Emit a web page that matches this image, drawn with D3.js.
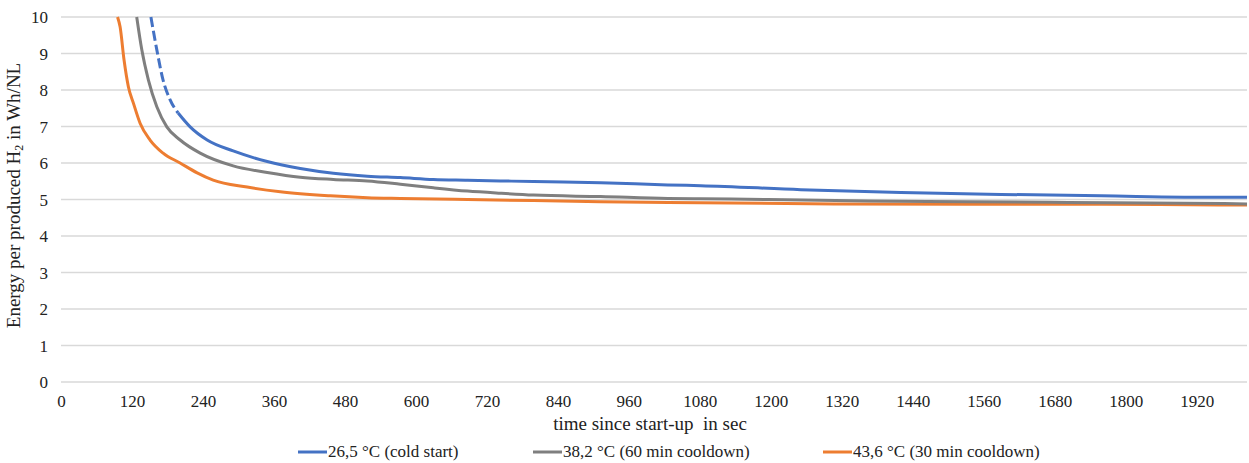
<!DOCTYPE html>
<html>
<head>
<meta charset="utf-8">
<script src="https://cdn.jsdelivr.net/npm/d3@7"></script>
<style>
  html, body { margin: 0; padding: 0; background: #fff; }
  svg text { font-family: "Liberation Serif", "Times New Roman", serif !important; fill: #222; }
</style>
</head>
<body>
<div id="chart"></div>
<script>
// tick values
const xTicks = [0, 120, 240, 360, 480, 600, 720, 840, 960, 1080, 1200, 1320, 1440, 1560, 1680, 1800, 1920];
const yTicks = [0, 1, 2, 3, 4, 5, 6, 7, 8, 9, 10];

const seriesNames = ['26,5 °C (cold start)', '38,2 °C (60 min cooldown)', '43,6 °C (30 min cooldown)'];
const seriesColors = ['#4472C4', '#7F7F7F', '#ED7D31'];

// blue is drawn dashed up to this time
const coldDashEnd = 198;

// time in s
const coldTime = [152, 162, 172.6, 184.5, 198, 218.3, 247.1, 291.1, 348.7, 404.5, 460.4, 517.9, 573.8, 629.6, 687.2, 743, 798.9, 912.3, 1025.7, 1081.5, 1250.7, 1420, 1589.2, 1758.5, 1956.5, 2005];
const coldValue = [10.0, 9.1, 8.27, 7.73, 7.37, 6.99, 6.63, 6.33, 6.04, 5.85, 5.72, 5.64, 5.60, 5.55, 5.53, 5.51, 5.49, 5.46, 5.40, 5.38, 5.27, 5.19, 5.14, 5.10, 5.06, 5.06];

const cool60Time = [128, 136.6, 147.8, 162, 178.9, 201.4, 235.3, 291.1, 348.7, 404.5, 460.4, 517.9, 573.8, 629.6, 687.2, 743, 798.9, 912.3, 1025.7, 1081.5, 1194.9, 1364.1, 1533.4, 1702.6, 1899, 2005];
const cool60Value = [10.0, 9.1, 8.27, 7.54, 6.99, 6.63, 6.27, 5.92, 5.74, 5.61, 5.55, 5.51, 5.42, 5.32, 5.23, 5.17, 5.12, 5.08, 5.03, 5.02, 5.00, 4.96, 4.94, 4.92, 4.90, 4.88];

const cool30Time = [95.6, 99.9, 106.6, 113.9, 122.4, 133.7, 150.6, 172.6, 201.4, 230.2, 257.3, 314.8, 370.7, 455.3, 517.9, 573.8, 687.2, 798.9, 912.3, 1081.5, 1306.6, 1533.4, 1758.5, 1956.5, 2005];
const cool30Value = [10.0, 9.73, 8.82, 8.09, 7.64, 7.09, 6.63, 6.27, 6.00, 5.73, 5.53, 5.34, 5.21, 5.10, 5.05, 5.03, 5.00, 4.97, 4.94, 4.91, 4.88, 4.87, 4.87, 4.85, 4.85];

const W = 1249, H = 463;
const margin = { top: 17, right: 2, bottom: 81, left: 61 };
const width = W - margin.left - margin.right;
const height = H - margin.top - margin.bottom;
const serif = '"Liberation Serif", "Times New Roman", serif';

const svg = d3.select('#chart').append('svg')
  .attr('width', W)
  .attr('height', H)
  .style('font-family', serif);

const g = svg.append('g')
  .attr('transform', 'translate(' + margin.left + ',' + margin.top + ')');

const x = d3.scaleLinear().domain([0, 2005]).range([0, width]);
const y = d3.scaleLinear().domain([0, 10]).range([height, 0]);

// gridlines
g.append('g')
  .selectAll('line')
  .data(yTicks)
  .enter().append('line')
  .attr('x1', 0)
  .attr('x2', width)
  .attr('y1', d => y(d))
  .attr('y2', d => y(d))
  .attr('stroke', '#D9D9D9')
  .attr('stroke-width', 1.3);

// axes (labels only)
const yAxis = g.append('g')
  .call(d3.axisLeft(y).tickValues(yTicks).tickSize(0).tickPadding(13));
yAxis.attr('font-family', null);
yAxis.select('.domain').remove();
yAxis.selectAll('text')
  .style('font-family', serif)
  .attr('font-size', 17)
  .attr('fill', '#222')
  .attr('dy', '0.33em');

const xAxis = g.append('g')
  .attr('transform', 'translate(0,' + height + ')')
  .call(d3.axisBottom(x).tickValues(xTicks).tickSize(0).tickPadding(13).tickFormat(d3.format('d')));
xAxis.attr('font-family', null);
xAxis.select('.domain').remove();
xAxis.selectAll('text')
  .style('font-family', serif)
  .attr('font-size', 17)
  .attr('fill', '#222')
  .attr('dy', '0.71em');

// titles
svg.append('text')
  .attr('x', margin.left + width / 2 - 4)
  .attr('y', 430)
  .attr('text-anchor', 'middle')
  .attr('font-size', 19)
  .style('white-space', 'pre')
  .text('time since start-up  in sec');

const yTitle = svg.append('text')
  .attr('transform', 'translate(20,' + (margin.top + height / 2 - 4) + ') rotate(-90)')
  .attr('text-anchor', 'middle')
  .attr('font-size', 19)
  .style('white-space', 'pre');
yTitle.append('tspan').text('Energy per produced H');
yTitle.append('tspan').attr('font-size', 12).attr('dy', 3).text('2');
yTitle.append('tspan').attr('dy', -3).text(' in Wh/NL');

// lines
const line = d3.line()
  .x(d => x(d.t))
  .y(d => y(d.v))
  .curve(d3.curveMonotoneX);

const zip = (ts, vs) => ts.map((t, i) => ({ t: t, v: vs[i] }));
const cold = zip(coldTime, coldValue);
const cool60 = zip(cool60Time, cool60Value);
const cool30 = zip(cool30Time, cool30Value);

const lines = g.append('g').attr('fill', 'none').attr('stroke-width', 3).attr('stroke-linejoin', 'round');

lines.append('path')
  .attr('d', line(cool30))
  .attr('stroke', seriesColors[2]);

lines.append('path')
  .attr('d', line(cool60))
  .attr('stroke', seriesColors[1]);

lines.append('path')
  .attr('d', line(cold.filter(d => d.t <= coldDashEnd)))
  .attr('stroke', seriesColors[0])
  .attr('stroke-dasharray', '10,4');

lines.append('path')
  .attr('d', line(cold.filter(d => d.t >= coldDashEnd)))
  .attr('stroke', seriesColors[0]);

// legend
const legendX = [298, 533, 823];
const legend = svg.append('g')
  .selectAll('g')
  .data(seriesNames)
  .enter().append('g')
  .attr('transform', (d, i) => 'translate(' + legendX[i] + ',452)');

legend.append('line')
  .attr('x1', 0)
  .attr('x2', 29)
  .attr('stroke', (d, i) => seriesColors[i])
  .attr('stroke-width', 3);

legend.append('text')
  .attr('x', 30)
  .attr('y', 5)
  .attr('font-size', 17)
  .text(d => d);
</script>
</body>
</html>
